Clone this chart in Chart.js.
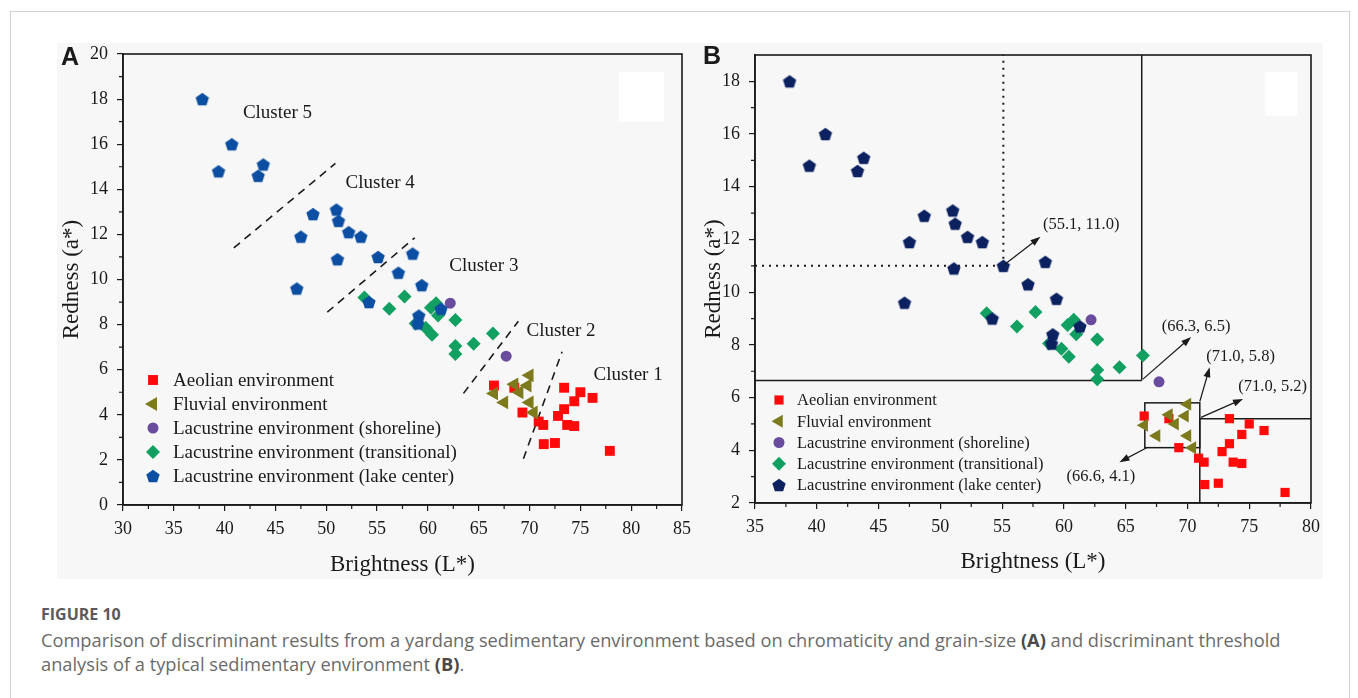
<!DOCTYPE html>
<html>
<head>
<meta charset="utf-8">
<script src="https://cdn.jsdelivr.net/npm/chart.js@4/dist/chart.umd.min.js"></script>
<style>
  body { margin: 0; background: #fff; width: 1358px; height: 698px; overflow: hidden; position: relative; }
  .frame { position: absolute; left: 10px; top: 11px; width: 1338px; height: 720px; border: 1px solid #d2d2d2; }
  .fig { position: absolute; left: 57px; top: 43px; width: 1266px; height: 536px; background: #f7f7f7; }
  .fig canvas { position: absolute; top: -20px; }
  #chartA { left: 0; }
  #chartB { left: 633px; }
  .fn { position: absolute; left: 41px; top: 602px; font: bold 16px "Open Sans", sans-serif; line-height: 24px; color: #5a5a5a; }
  .ct { position: absolute; left: 41px; top: 628px; font: 18.25px "Open Sans", sans-serif; line-height: 24px; color: #6a6a6a; white-space: nowrap; }
  .ct b { color: #4a4a4a; }
</style>
</head>
<body>
<div class="frame"></div>
<div class="fig">
  <canvas id="chartA" width="653" height="556"></canvas>
  <canvas id="chartB" width="653" height="556"></canvas>
</div>
<div class="fn">FIGURE 10</div>
<div class="ct">Comparison of discriminant results from a yardang sedimentary environment based on chromaticity and grain-size <b>(A)</b> and discriminant threshold<br>analysis of a typical sedimentary environment <b>(B)</b>.</div>
<script>
// groups, [brightness L*, redness a*]
const envNames = [
  'Aeolian environment',
  'Fluvial environment',
  'Lacustrine environment (shoreline)',
  'Lacustrine environment (transitional)',
  'Lacustrine environment (lake center)'
];
const aeolian = [[66.5, 5.3], [68.5, 5.2], [69.3, 4.1], [70.9, 3.7], [71.35, 3.55], [71.4, 2.7], [72.5, 2.75], [72.8, 3.95],
  [73.4, 4.25], [73.4, 5.2], [73.7, 3.55], [74.4, 3.5], [74.4, 4.6], [75.0, 5.0], [76.2, 4.75], [77.9, 2.4]];
const fluvial = [[70.0, 5.75], [69.8, 5.3], [69.0, 5.0], [68.5, 5.35], [67.5, 4.55], [66.5, 4.95], [70.0, 4.55], [70.4, 4.1]];
const shoreline = [[62.2, 8.95], [67.7, 6.6]];
const transitional = [[53.75, 9.2], [56.2, 8.7], [57.7, 9.25], [58.8, 8.05], [59.8, 7.85], [60.3, 8.75], [60.8, 8.95],
  [61.0, 8.4], [60.4, 7.55], [62.7, 8.2], [62.7, 7.05], [62.7, 6.7], [64.5, 7.15], [66.4, 7.6]];
const lakeCenter = [[37.8, 18.0], [39.4, 14.8], [40.7, 16.0], [43.3, 14.6], [43.8, 15.1], [47.1, 9.6], [47.5, 11.9],
  [48.7, 12.9], [51.0, 13.1], [51.2, 12.6], [51.1, 10.9], [52.2, 12.1], [53.4, 11.9], [54.2, 9.0], [55.1, 11.0],
  [57.1, 10.3], [58.5, 11.15], [59.4, 9.75], [59.1, 8.4], [59.0, 8.05], [61.3, 8.7]];

// panel A: cluster boundaries and names
const clusterLines = [[[40.9, 11.4], [50.9, 15.15]], [[50.1, 8.55], [58.7, 11.85]], [[63.5, 4.95], [68.9, 8.15]], [[69.4, 2.05], [73.2, 6.8]]];
const clusterNames = ['Cluster 5', 'Cluster 4', 'Cluster 3', 'Cluster 2', 'Cluster 1'];
const clusterAt = [[45.2, 17.4], [55.3, 14.3], [65.5, 10.6], [73.1, 7.7], [79.7, 5.75]];

// panel B: thresholds
const dottedLines = [[[55.1, 11.0], [55.1, 19]], [[35, 11.0], [55.1, 11.0]]];
const solidLines = [[[35, 6.65], [66.3, 6.65]], [[66.3, 6.65], [66.3, 19]], [[71.0, 2], [71.0, 5.2]], [[71.0, 5.2], [80, 5.2]]];
const boxB = [[66.55, 4.1], [71.0, 5.8]];
const arrowLines = [[[55.2, 11.05], [58.1, 12.1]], [[66.4, 6.7], [70.3, 8.3]], [[71.0, 5.85], [71.8, 7.15]],
  [[71.1, 5.25], [74.5, 5.95]], [[66.7, 4.1], [64.5, 3.55]]];
const arrowText = ['(55.1, 11.0)', '(66.3, 6.5)', '(71.0, 5.8)', '(71.0, 5.2)', '(66.6, 4.1)'];
const arrowTextAt = [[61.4, 12.55], [70.7, 8.7], [74.3, 7.55], [76.9, 6.4], [63.0, 3.0]];

const serif = '"Liberation Serif", "Times New Roman", serif';
Chart.defaults.font.family = serif;
Chart.defaults.color = '#1a1a1a';

function pentagon(color, r) {
  const c = document.createElement('canvas');
  const s = Math.ceil(r * 2 + 2);
  c.width = s; c.height = s;
  const g = c.getContext('2d');
  g.fillStyle = color;
  g.beginPath();
  for (let k = 0; k < 5; k++) {
    const t = -Math.PI / 2 + k * 2 * Math.PI / 5;
    g.lineTo(s / 2 + r * Math.cos(t), s / 2 + r * Math.sin(t) + r * 0.1);
  }
  g.closePath();
  g.fill();
  return c;
}

const pts = arr => arr.map(p => ({x: p[0], y: p[1]}));

function makeSets(blue, sz) {
  return [
    {label: envNames[0], data: pts(aeolian), pointStyle: 'rect', backgroundColor: '#ff0a0a', pointRadius: sz.sq, order: 4},
    {label: envNames[1], data: pts(fluvial), pointStyle: 'triangle', rotation: 270, backgroundColor: '#7d7a1e', pointRadius: sz.tri, order: 3},
    {label: envNames[2], data: pts(shoreline), pointStyle: 'circle', backgroundColor: '#6a4c9e', pointRadius: sz.dot, order: 1},
    {label: envNames[3], data: pts(transitional), pointStyle: 'rectRot', backgroundColor: '#12a062', pointRadius: sz.dia, order: 2},
    {label: envNames[4], data: pts(lakeCenter), pointStyle: pentagon(blue, sz.pent), backgroundColor: blue, pointRadius: sz.pent, order: 0}
  ].map(d => Object.assign(d, {borderWidth: 0, pointHoverRadius: d.pointRadius}));
}

const xy = (c, p) => [c.scales.x.getPixelForValue(p[0]), c.scales.y.getPixelForValue(p[1])];

const framePlugin = {
  id: 'frame',
  beforeDatasetsDraw(chart, args, o) {
    const ctx = chart.ctx;
    ctx.save();
    if (o.blank) {
      const [a, b] = [xy(chart, o.blank[0]), xy(chart, o.blank[1])];
      ctx.fillStyle = '#ffffff';
      ctx.fillRect(a[0], b[1], b[0] - a[0], a[1] - b[1]);
    }
    ctx.strokeStyle = '#1a1a1a';
    (o.dashed || []).forEach(l => {
      ctx.setLineDash([8, 6]); ctx.lineWidth = 1.6;
      ctx.beginPath(); ctx.moveTo(...xy(chart, l[0])); ctx.lineTo(...xy(chart, l[1])); ctx.stroke();
    });
    (o.dotted || []).forEach(l => {
      ctx.setLineDash([2, 5]); ctx.lineWidth = 2;
      ctx.beginPath(); ctx.moveTo(...xy(chart, l[0])); ctx.lineTo(...xy(chart, l[1])); ctx.stroke();
    });
    ctx.setLineDash([]);
    ctx.lineWidth = 1.5;
    (o.solid || []).forEach(l => {
      ctx.beginPath(); ctx.moveTo(...xy(chart, l[0])); ctx.lineTo(...xy(chart, l[1])); ctx.stroke();
    });
    if (o.box) {
      const [a, b] = [xy(chart, o.box[0]), xy(chart, o.box[1])];
      ctx.strokeRect(a[0], b[1], b[0] - a[0], a[1] - b[1]);
    }
    ctx.restore();
  },
  afterDraw(chart, args, o) {
    const {ctx, chartArea: a, scales: {x, y}} = chart;
    ctx.save();
    ctx.strokeStyle = '#1a1a1a';
    ctx.lineWidth = 1.6;
    ctx.strokeRect(a.left, a.top, a.right - a.left, a.bottom - a.top);
    // minor ticks halfway between major ones
    ctx.lineWidth = 1.2;
    ctx.beginPath();
    for (let i = 0; i < x.ticks.length - 1; i++) {
      const px = (x.getPixelForValue(x.ticks[i].value) + x.getPixelForValue(x.ticks[i + 1].value)) / 2;
      ctx.moveTo(px, a.bottom); ctx.lineTo(px, a.bottom + 4);
    }
    for (let i = 0; i < y.ticks.length - 1; i++) {
      const py = (y.getPixelForValue(y.ticks[i].value) + y.getPixelForValue(y.ticks[i + 1].value)) / 2;
      ctx.moveTo(a.left, py); ctx.lineTo(a.left - 4, py);
    }
    ctx.stroke();
    // arrows
    ctx.fillStyle = '#1a1a1a';
    (o.arrows || []).forEach(l => {
      const [p, q] = [xy(chart, l[0]), xy(chart, l[1])];
      const ang = Math.atan2(q[1] - p[1], q[0] - p[0]);
      ctx.beginPath(); ctx.moveTo(p[0], p[1]);
      ctx.lineTo(q[0] - 8 * Math.cos(ang), q[1] - 8 * Math.sin(ang)); ctx.stroke();
      ctx.beginPath();
      ctx.moveTo(q[0], q[1]);
      ctx.lineTo(q[0] - 10 * Math.cos(ang) + 3.5 * Math.sin(ang), q[1] - 10 * Math.sin(ang) - 3.5 * Math.cos(ang));
      ctx.lineTo(q[0] - 10 * Math.cos(ang) - 3.5 * Math.sin(ang), q[1] - 10 * Math.sin(ang) + 3.5 * Math.cos(ang));
      ctx.closePath(); ctx.fill();
    });
    // text labels
    ctx.textAlign = 'center';
    ctx.textBaseline = 'middle';
    ctx.font = o.labelFont;
    (o.labels || []).forEach((t, i) => ctx.fillText(t, ...xy(chart, o.labelAt[i])));
    // inside legend
    const lg = o.legend;
    ctx.textAlign = 'left';
    ctx.font = lg.font;
    chart.data.datasets.forEach((ds, i) => {
      const lx = a.left + lg.left, ly = a.bottom - lg.bottom + i * lg.gap;
      ctx.fillStyle = ds.backgroundColor;
      Chart.helpers.drawPoint(ctx, {pointStyle: ds.pointStyle, radius: ds.pointRadius, rotation: ds.rotation || 0, borderWidth: 0}, lx, ly);
      ctx.fillStyle = '#1a1a1a';
      ctx.fillText(ds.label, lx + lg.text, ly + 1);
    });
    // panel letter
    ctx.font = 'bold 25px "Liberation Sans", Arial, sans-serif';
    ctx.textBaseline = 'alphabetic';
    ctx.fillText(o.panel.text, o.panel.x, o.panel.y);
    ctx.restore();
  }
};

function axes(xMin, xMax, yMin, yMax, yW, xH, titlePad) {
  const tickFont = {size: 18};
  const grid = {drawOnChartArea: false, drawTicks: true, tickLength: 6, color: '#1a1a1a', lineWidth: 1.2};
  const border = {display: true, color: '#1a1a1a', width: 1.6};
  return {
    x: {
      type: 'linear', min: xMin, max: xMax, grid, border,
      ticks: {stepSize: 5, font: tickFont, padding: 7, autoSkip: false, maxRotation: 0, color: '#1a1a1a'},
      title: {display: true, text: 'Brightness (L*)', font: {size: 23}, color: '#1a1a1a', padding: {top: 0, bottom: titlePad.x}},
      afterFit: s => { s.height = xH; }
    },
    y: {
      type: 'linear', min: yMin, max: yMax, grid, border,
      ticks: {stepSize: 2, font: tickFont, padding: 9, includeBounds: false, autoSkip: false, color: '#1a1a1a'},
      title: {display: true, text: 'Redness (a*)', font: {size: 23}, color: '#1a1a1a', padding: {top: titlePad.y, bottom: 0}},
      afterFit: s => { s.width = yW; }
    }
  };
}

new Chart(document.getElementById('chartA'), {
  type: 'scatter',
  data: {datasets: makeSets('#0b4ea2', {sq: 7, tri: 8, dot: 5.5, dia: 7, pent: 7})},
  options: {
    responsive: false, animation: false, events: [],
    layout: {padding: {left: 0, top: 31, right: 28, bottom: 0}},
    scales: axes(30, 85, 0, 20, 66, 74, {x: 0, y: 1}),
    plugins: {
      legend: {display: false}, tooltip: {enabled: false},
      frame: {
        blank: [[78.8, 19.2], [83.2, 17.0]],
        dashed: clusterLines,
        labels: clusterNames, labelAt: clusterAt, labelFont: '19px ' + serif,
        legend: {left: 30, bottom: 125, gap: 24, text: 20, font: '19px ' + serif},
        panel: {text: 'A', x: 4, y: 42}
      }
    }
  },
  plugins: [framePlugin]
});

new Chart(document.getElementById('chartB'), {
  type: 'scatter',
  data: {datasets: makeSets('#0b2160', {sq: 6.5, tri: 7.5, dot: 5.5, dia: 7, pent: 7})},
  options: {
    responsive: false, animation: false, events: [],
    layout: {padding: {left: 0, top: 32, right: 32, bottom: 0}},
    scales: axes(35, 80, 2, 19, 65, 76, {x: 3, y: 10}),
    plugins: {
      legend: {display: false}, tooltip: {enabled: false},
      frame: {
        blank: [[76.3, 18.35], [78.9, 16.7]],
        dotted: dottedLines, solid: solidLines, box: boxB, arrows: arrowLines,
        labels: arrowText, labelAt: arrowTextAt, labelFont: '16.5px ' + serif,
        legend: {left: 24, bottom: 103, gap: 21.25, text: 18, font: '16.5px ' + serif},
        panel: {text: 'B', x: 13, y: 41}
      }
    }
  },
  plugins: [framePlugin]
});
</script>
</body>
</html>
